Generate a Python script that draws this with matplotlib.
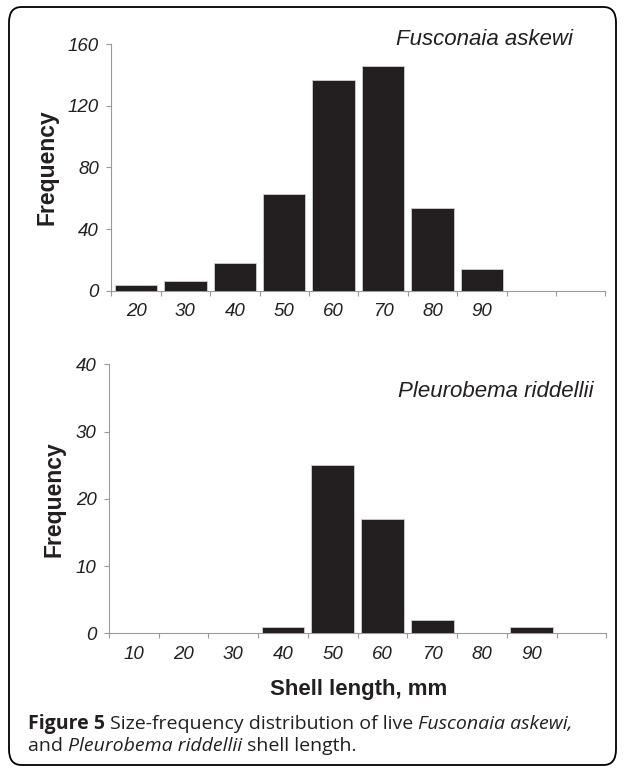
import numpy as np
import matplotlib
matplotlib.use('Agg')
import matplotlib.pyplot as plt
from matplotlib.patches import FancyBboxPatch

# data --------------------------------------------------------------
fa_labels = ['20', '30', '40', '50', '60', '70', '80', '90', '', '']
fa_counts = [4, 6, 18, 63, 137, 146, 54, 14, 0, 0]
fa_yticks = [0, 40, 80, 120, 160]

pr_labels = ['10', '20', '30', '40', '50', '60', '70', '80', '90', '']
pr_counts = [0, 0, 0, 1, 25, 17, 2, 0, 1, 0]
pr_yticks = [0, 10, 20, 30, 40]

W, H = 625, 773  # figure size in pixels
barcol = '#231f20'
axcol = '#9a9a9a'
tickfont = 'Liberation Sans'

fig = plt.figure(figsize=(W / 100, H / 100), dpi=100)

#function to draw one histogram panel
def panel(rect, labels, counts, yticks, title, tx, ty, fx, fy):
    ax = fig.add_axes(rect)
    n = len(counts)
    x = np.arange(n)
    ax.bar(x, counts, width=0.86, color=barcol, edgecolor='#cfcfcf', linewidth=0.6, zorder=3)
    ax.set_xlim(-0.5, n - 0.5)
    ax.set_ylim(yticks[0], yticks[-1])
    ax.set_yticks(yticks)
    ax.set_yticklabels([str(t) for t in yticks], fontstyle='italic', family=tickfont,
                       fontsize=13.5, color='#231f20')
    # ticks at bin edges, labels at bin centres
    ax.set_xticks(np.arange(n + 1) - 0.5)
    ax.set_xticklabels([])
    ax.set_xticks(x, minor=True)
    ax.set_xticklabels(labels, minor=True, fontstyle='italic', family=tickfont,
                       fontsize=13.5, color='#231f20')
    ax.tick_params(axis='x', which='minor', length=0, pad=9)
    ax.tick_params(axis='x', which='major', length=3.3, width=0.8, color=axcol, direction='out')
    ax.tick_params(axis='y', length=3.4, width=0.8, color=axcol, direction='out', pad=5.5)
    for s in ['top', 'right']:
        ax.spines[s].set_visible(False)
    for s in ['left', 'bottom']:
        ax.spines[s].set_color(axcol)
        ax.spines[s].set_linewidth(0.8)
    fig.text(fx / W, 1 - fy / H, 'Frequency', rotation=90, ha='center', va='center',
             family=tickfont, fontweight='bold', fontsize=16.5, color='#231f20')
    fig.text(tx / W, 1 - ty / H, title, ha='right', va='baseline', fontstyle='italic',
             family=tickfont, fontsize=16, color='#231f20')
    return ax

ax1 = panel([111.3 / W, 1 - 290.7 / H, 494 / W, 246.5 / H], fa_labels, fa_counts, fa_yticks,
            'Fusconaia askewi', 573, 45, 47, 167)
ax2 = panel([108.8 / W, 1 - 633.3 / H, 497.5 / W, 269 / H], pr_labels, pr_counts, pr_yticks,
            'Pleurobema riddellii', 594, 397, 54, 499)
fig.text(359 / W, 1 - 695 / H, 'Shell length, mm', ha='center', va='baseline', family=tickfont,
         fontweight='bold', fontsize=16, color='#231f20')

# rounded frame round the figure
frame = FancyBboxPatch((9 / W, 8 / H), 607 / W, 758 / H, transform=fig.transFigure,
                       boxstyle='round,pad=0,rounding_size=0.02', facecolor='none',
                       edgecolor='black', linewidth=1.3)
fig.patches.append(frame)

# caption, pieced together so bold / italic runs sit on one baseline
capfont = 'Open Sans'
capsize = 14
line1 = [('Figure 5', 'bold', 'normal'), (' Size-frequency distribution of live ', 'normal', 'normal'),
         ('Fusconaia askewi,', 'normal', 'italic')]
line2 = [('and ', 'normal', 'normal'), ('Pleurobema riddellii', 'normal', 'italic'),
         (' shell length.', 'normal', 'normal')]

r = fig.canvas.get_renderer()
def put_line(pieces, x0, ybase):
    xpx = x0
    for txt, wt, st in pieces:
        t = fig.text(xpx / W, 1 - ybase / H, txt, fontweight=wt, fontstyle=st, family=capfont,
                     fontsize=capsize, va='baseline', ha='left', color='#231f20')
        xpx += t.get_window_extent(renderer=r).width
put_line(line1, 28, 729)
put_line(line2, 28, 751)

fig.savefig('out.png', dpi=100)
